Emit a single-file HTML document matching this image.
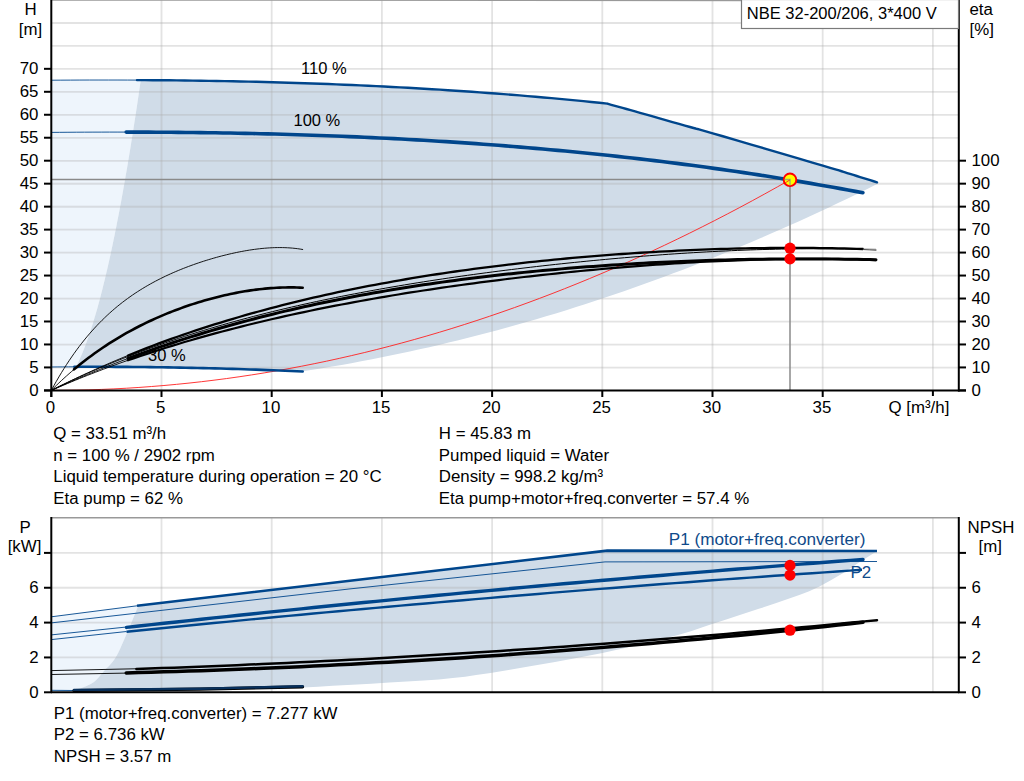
<!DOCTYPE html>
<html><head><meta charset="utf-8"><style>
html,body{margin:0;padding:0;background:#fff;width:1024px;height:781px;overflow:hidden}
svg{display:block}
.t{font-family:"Liberation Sans",sans-serif;font-size:16.85px;fill:#000}
</style></head><body>
<svg width="1024" height="781" viewBox="0 0 1024 781">
<path d="M51.30,80.20 L140.74,80.20 L140.04,85.06 L139.33,89.92 L138.61,94.78 L137.89,99.64 L137.17,104.51 L136.43,109.37 L135.69,114.23 L134.95,119.09 L134.20,123.95 L133.44,128.81 L132.67,133.67 L131.90,138.53 L131.11,143.39 L130.32,148.25 L129.53,153.12 L128.72,157.98 L127.91,162.84 L127.09,167.70 L126.25,172.56 L125.41,177.42 L124.56,182.28 L123.70,187.14 L122.83,192.00 L121.95,196.86 L121.06,201.73 L120.15,206.59 L119.23,211.45 L118.31,216.31 L117.36,221.17 L116.41,226.03 L115.44,230.89 L114.45,235.75 L113.45,240.61 L112.44,245.47 L111.40,250.34 L110.35,255.20 L109.28,260.06 L108.19,264.92 L107.07,269.78 L105.94,274.64 L104.78,279.50 L103.59,284.36 L102.38,289.22 L101.14,294.08 L99.87,298.95 L98.56,303.81 L97.21,308.67 L95.83,313.53 L94.39,318.39 L92.91,323.25 L91.38,328.11 L89.78,332.97 L88.12,337.83 L86.38,342.69 L84.54,347.56 L82.60,352.42 L80.53,357.28 L78.30,362.14 L75.87,367.00 L51.30,367.00 Z" fill="#eef5fc"/>
<path d="M140.76,80.11 L148.66,80.15 L156.57,80.21 L164.48,80.28 L172.39,80.35 L180.29,80.44 L188.20,80.53 L196.11,80.64 L204.02,80.76 L211.92,80.89 L219.83,81.02 L227.74,81.17 L235.65,81.33 L243.55,81.50 L251.46,81.69 L259.37,81.88 L267.28,82.08 L275.18,82.30 L283.09,82.53 L291.00,82.77 L298.91,83.02 L306.81,83.28 L314.72,83.56 L322.63,83.85 L330.54,84.15 L338.44,84.47 L346.35,84.79 L354.26,85.13 L362.17,85.48 L370.07,85.85 L377.98,86.23 L385.89,86.62 L393.80,87.03 L401.70,87.45 L409.61,87.88 L417.52,88.33 L425.43,88.79 L433.33,89.27 L441.24,89.76 L449.15,90.26 L457.06,90.78 L464.96,91.32 L472.87,91.87 L480.78,92.43 L488.69,93.01 L496.59,93.60 L504.50,94.21 L512.41,94.84 L520.32,95.48 L528.22,96.13 L536.13,96.81 L544.04,97.50 L551.95,98.20 L559.85,98.92 L567.76,99.66 L575.67,100.41 L583.58,101.18 L591.48,101.97 L599.39,102.78 L607.30,103.60 L607.30,103.70 L611.27,104.80 L615.07,105.86 L618.80,106.89 L622.57,107.93 L626.47,109.01 L630.61,110.17 L635.08,111.42 L640.00,112.80 L645.61,114.38 L651.92,116.18 L658.68,118.10 L665.62,120.07 L672.49,122.03 L679.01,123.89 L684.94,125.57 L690.00,127.00 L693.55,127.99 L695.55,128.52 L696.67,128.80 L697.59,129.02 L698.99,129.38 L701.52,130.08 L705.87,131.32 L712.70,133.30 L722.85,136.26 L736.02,140.11 L751.23,144.56 L767.47,149.33 L783.74,154.10 L799.06,158.60 L812.41,162.53 L822.80,165.60 L830.17,167.79 L835.43,169.36 L839.08,170.47 L841.59,171.24 L843.46,171.83 L845.16,172.38 L847.18,173.02 L850.00,173.90 L853.38,174.95 L856.76,175.99 L860.14,177.04 L863.51,178.09 L866.88,179.15 L870.25,180.20 L873.63,181.25 L877.00,182.30 L877.00,184.07 L867.27,188.91 L857.53,193.68 L847.80,198.41 L838.06,203.07 L828.33,207.68 L818.60,212.23 L808.86,216.72 L799.13,221.15 L789.39,225.53 L779.66,229.85 L769.93,234.11 L760.19,238.32 L750.46,242.47 L740.73,246.56 L730.99,250.59 L721.26,254.56 L711.52,258.48 L701.79,262.34 L692.06,266.15 L682.32,269.89 L672.59,273.58 L662.85,277.22 L653.12,280.79 L643.39,284.31 L633.65,287.77 L623.92,291.17 L614.18,294.51 L604.45,297.80 L594.72,301.03 L584.98,304.20 L575.25,307.32 L565.52,310.38 L555.78,313.38 L546.05,316.32 L536.31,319.21 L526.58,322.04 L516.85,324.81 L507.11,327.52 L497.38,330.18 L487.64,332.78 L477.91,335.32 L468.18,337.81 L458.44,340.23 L448.71,342.60 L438.97,344.92 L429.24,347.17 L419.51,349.37 L409.77,351.51 L400.04,353.59 L390.31,355.62 L380.57,357.59 L370.84,359.50 L361.10,361.35 L351.37,363.15 L341.64,364.89 L331.90,366.57 L322.17,368.20 L312.43,369.76 L302.70,371.27 L302.70,371.55 L296.86,371.29 L291.02,371.03 L285.18,370.79 L279.35,370.55 L273.51,370.31 L267.67,370.09 L261.83,369.87 L255.99,369.66 L250.15,369.46 L244.32,369.26 L238.48,369.07 L232.64,368.89 L226.80,368.72 L220.96,368.55 L215.12,368.39 L209.28,368.24 L203.45,368.10 L197.61,367.96 L191.77,367.84 L185.93,367.72 L180.09,367.60 L174.25,367.50 L168.42,367.40 L162.58,367.31 L156.74,367.22 L150.90,367.15 L145.06,367.08 L139.22,367.02 L133.38,366.96 L127.55,366.92 L121.71,366.88 L115.87,366.85 L110.03,366.82 L104.19,366.81 L98.35,366.80 L92.52,366.80 L86.68,366.80 L80.84,366.82 L75.00,366.84 L75.87,367.00 L78.30,362.14 L80.53,357.27 L82.60,352.41 L84.54,347.55 L86.38,342.69 L88.12,337.82 L89.79,332.96 L91.38,328.10 L92.92,323.24 L94.40,318.37 L95.83,313.51 L97.22,308.65 L98.56,303.79 L99.87,298.92 L101.15,294.06 L102.39,289.20 L103.60,284.34 L104.79,279.47 L105.95,274.61 L107.08,269.75 L108.19,264.88 L109.29,260.02 L110.36,255.16 L111.41,250.30 L112.44,245.43 L113.46,240.57 L114.46,235.71 L115.45,230.85 L116.42,225.98 L117.37,221.12 L118.32,216.26 L119.24,211.40 L120.16,206.53 L121.07,201.67 L121.96,196.81 L122.84,191.95 L123.71,187.08 L124.57,182.22 L125.42,177.36 L126.26,172.49 L127.10,167.63 L127.92,162.77 L128.73,157.91 L129.54,153.04 L130.34,148.18 L131.13,143.32 L131.91,138.46 L132.68,133.59 L133.45,128.73 L134.21,123.87 L134.96,119.01 L135.71,114.14 L136.45,109.28 L137.18,104.42 L137.91,99.55 L138.63,94.69 L139.34,89.83 L140.05,84.97 L140.76,80.10 Z" fill="#d0dce8"/>
<line x1="52" y1="367.53" x2="958" y2="367.53" stroke="rgba(172,172,172,0.34)" stroke-width="1.8"/>
<line x1="52" y1="344.56" x2="958" y2="344.56" stroke="rgba(172,172,172,0.34)" stroke-width="1.8"/>
<line x1="52" y1="321.59" x2="958" y2="321.59" stroke="rgba(172,172,172,0.34)" stroke-width="1.8"/>
<line x1="52" y1="298.62" x2="958" y2="298.62" stroke="rgba(172,172,172,0.34)" stroke-width="1.8"/>
<line x1="52" y1="275.65" x2="958" y2="275.65" stroke="rgba(172,172,172,0.34)" stroke-width="1.8"/>
<line x1="52" y1="252.68" x2="958" y2="252.68" stroke="rgba(172,172,172,0.34)" stroke-width="1.8"/>
<line x1="52" y1="229.71" x2="958" y2="229.71" stroke="rgba(172,172,172,0.34)" stroke-width="1.8"/>
<line x1="52" y1="206.74" x2="958" y2="206.74" stroke="rgba(172,172,172,0.34)" stroke-width="1.8"/>
<line x1="52" y1="183.77" x2="958" y2="183.77" stroke="rgba(172,172,172,0.34)" stroke-width="1.8"/>
<line x1="52" y1="160.80" x2="958" y2="160.80" stroke="rgba(172,172,172,0.34)" stroke-width="1.8"/>
<line x1="52" y1="137.83" x2="958" y2="137.83" stroke="rgba(172,172,172,0.34)" stroke-width="1.8"/>
<line x1="52" y1="114.86" x2="958" y2="114.86" stroke="rgba(172,172,172,0.34)" stroke-width="1.8"/>
<line x1="52" y1="91.89" x2="958" y2="91.89" stroke="rgba(172,172,172,0.34)" stroke-width="1.8"/>
<line x1="52" y1="68.92" x2="958" y2="68.92" stroke="rgba(172,172,172,0.34)" stroke-width="1.8"/>
<line x1="52" y1="45.95" x2="958" y2="45.95" stroke="rgba(172,172,172,0.34)" stroke-width="1.8"/>
<line x1="52" y1="22.98" x2="958" y2="22.98" stroke="rgba(172,172,172,0.34)" stroke-width="1.8"/>
<line x1="161.50" y1="0" x2="161.50" y2="390" stroke="rgba(172,172,172,0.34)" stroke-width="1.8"/>
<line x1="271.70" y1="0" x2="271.70" y2="390" stroke="rgba(172,172,172,0.34)" stroke-width="1.8"/>
<line x1="381.90" y1="0" x2="381.90" y2="390" stroke="rgba(172,172,172,0.34)" stroke-width="1.8"/>
<line x1="492.10" y1="0" x2="492.10" y2="390" stroke="rgba(172,172,172,0.34)" stroke-width="1.8"/>
<line x1="602.30" y1="0" x2="602.30" y2="390" stroke="rgba(172,172,172,0.34)" stroke-width="1.8"/>
<line x1="712.50" y1="0" x2="712.50" y2="390" stroke="rgba(172,172,172,0.34)" stroke-width="1.8"/>
<line x1="822.70" y1="0" x2="822.70" y2="390" stroke="rgba(172,172,172,0.34)" stroke-width="1.8"/>
<line x1="932.90" y1="0" x2="932.90" y2="390" stroke="rgba(172,172,172,0.34)" stroke-width="1.8"/>
<line x1="52" y1="179.6" x2="790" y2="179.6" stroke="#8a8a8a" stroke-width="1.5"/>
<line x1="790" y1="180" x2="790" y2="390" stroke="#8a8a8a" stroke-width="1.5"/>
<path d="M51.30,390.40 L63.82,390.34 L76.34,390.16 L88.85,389.86 L101.37,389.43 L113.89,388.89 L126.41,388.22 L138.93,387.44 L151.44,386.53 L163.96,385.50 L176.48,384.35 L189.00,383.08 L201.52,381.69 L214.03,380.18 L226.55,378.55 L239.07,376.79 L251.59,374.92 L264.11,372.92 L276.62,370.80 L289.14,368.57 L301.66,366.21 L314.18,363.73 L326.70,361.13 L339.21,358.40 L351.73,355.56 L364.25,352.60 L376.77,349.51 L389.29,346.31 L401.80,342.98 L414.32,339.53 L426.84,335.96 L439.36,332.28 L451.88,328.46 L464.39,324.53 L476.91,320.48 L489.43,316.31 L501.95,312.01 L514.46,307.60 L526.98,303.06 L539.50,298.40 L552.02,293.63 L564.54,288.73 L577.05,283.71 L589.57,278.57 L602.09,273.30 L614.61,267.92 L627.13,262.42 L639.64,256.79 L652.16,251.05 L664.68,245.18 L677.20,239.19 L689.72,233.08 L702.23,226.85 L714.75,220.50 L727.27,214.03 L739.79,207.44 L752.31,200.72 L764.82,193.89 L777.34,186.93 L789.86,179.86" fill="none" stroke="#ff2020" stroke-width="0.9"/>
<path d="M51.30,80.21 L60.82,80.15 L70.34,80.10 L79.87,80.06 L89.39,80.03 L98.91,80.02 L108.43,80.02 L117.96,80.03 L127.48,80.05 L137.00,80.09" fill="none" stroke="#00468c" stroke-width="0.9"/>
<path d="M137.00,80.09 L144.97,80.13 L152.94,80.18 L160.91,80.25 L168.88,80.32 L176.86,80.40 L184.83,80.49 L192.80,80.60 L200.77,80.71 L208.74,80.83 L216.71,80.97 L224.68,81.11 L232.65,81.27 L240.63,81.44 L248.60,81.62 L256.57,81.81 L264.54,82.01 L272.51,82.23 L280.48,82.45 L288.45,82.69 L296.42,82.94 L304.39,83.20 L312.37,83.48 L320.34,83.77 L328.31,84.07 L336.28,84.38 L344.25,84.70 L352.22,85.04 L360.19,85.40 L368.16,85.76 L376.14,86.14 L384.11,86.53 L392.08,86.94 L400.05,87.36 L408.02,87.79 L415.99,88.24 L423.96,88.71 L431.93,89.18 L439.91,89.67 L447.88,90.18 L455.85,90.70 L463.82,91.24 L471.79,91.79 L479.76,92.36 L487.73,92.94 L495.70,93.53 L503.67,94.15 L511.65,94.78 L519.62,95.42 L527.59,96.08 L535.56,96.76 L543.53,97.45 L551.50,98.16 L559.47,98.89 L567.44,99.63 L575.42,100.39 L583.39,101.16 L591.36,101.96 L599.33,102.77 L607.30,103.60 L607.30,103.70 L611.27,104.80 L615.07,105.86 L618.80,106.89 L622.57,107.93 L626.47,109.01 L630.61,110.17 L635.08,111.42 L640.00,112.80 L645.61,114.38 L651.92,116.18 L658.68,118.10 L665.62,120.07 L672.49,122.03 L679.01,123.89 L684.94,125.57 L690.00,127.00 L693.55,127.99 L695.55,128.52 L696.67,128.80 L697.59,129.02 L698.99,129.38 L701.52,130.08 L705.87,131.32 L712.70,133.30 L722.85,136.26 L736.02,140.11 L751.23,144.56 L767.47,149.33 L783.74,154.10 L799.06,158.60 L812.41,162.53 L822.80,165.60 L830.17,167.79 L835.43,169.36 L839.08,170.47 L841.59,171.24 L843.46,171.83 L845.16,172.38 L847.18,173.02 L850.00,173.90 L853.38,174.95 L856.76,175.99 L860.14,177.04 L863.51,178.09 L866.88,179.15 L870.25,180.20 L873.63,181.25 L877.00,182.30" fill="none" stroke="#00468c" stroke-width="2.4" stroke-linejoin="round" stroke-linecap="round"/>
<path d="M51.30,132.40 L59.62,132.33 L67.94,132.27 L76.27,132.21 L84.59,132.17 L92.91,132.13 L101.23,132.11 L109.56,132.09 L117.88,132.09 L126.20,132.09" fill="none" stroke="#00468c" stroke-width="0.9"/>
<path d="M126.20,132.09 L133.64,132.10 L141.08,132.13 L148.52,132.16 L155.97,132.19 L163.41,132.24 L170.85,132.30 L178.29,132.36 L185.73,132.43 L193.17,132.52 L200.61,132.61 L208.06,132.71 L215.50,132.82 L222.94,132.94 L230.38,133.07 L237.82,133.21 L245.26,133.37 L252.70,133.53 L260.15,133.70 L267.59,133.88 L275.03,134.07 L282.47,134.27 L289.91,134.49 L297.35,134.71 L304.79,134.95 L312.24,135.19 L319.68,135.45 L327.12,135.72 L334.56,136.00 L342.00,136.29 L349.44,136.59 L356.88,136.91 L364.33,137.24 L371.77,137.58 L379.21,137.93 L386.65,138.29 L394.09,138.67 L401.53,139.06 L408.97,139.46 L416.42,139.87 L423.86,140.30 L431.30,140.74 L438.74,141.20 L446.18,141.66 L453.62,142.14 L461.06,142.64 L468.51,143.15 L475.95,143.67 L483.39,144.20 L490.83,144.75 L498.27,145.32 L505.71,145.89 L513.15,146.49 L520.59,147.09 L528.04,147.71 L535.48,148.35 L542.92,149.00 L550.36,149.67 L557.80,150.35 L565.24,151.04 L572.68,151.76 L580.13,152.48 L587.57,153.23 L595.01,153.99 L602.45,154.76 L609.89,155.55 L617.33,156.36 L624.77,157.18 L632.22,158.02 L639.66,158.87 L647.10,159.75 L654.54,160.63 L661.98,161.54 L669.42,162.46 L676.86,163.40 L684.31,164.36 L691.75,165.33 L699.19,166.32 L706.63,167.33 L714.07,168.36 L721.51,169.40 L728.95,170.46 L736.40,171.54 L743.84,172.64 L751.28,173.76 L758.72,174.89 L766.16,176.05 L773.60,177.22 L781.04,178.41 L788.49,179.62 L795.93,180.85 L803.37,182.10 L810.81,183.36 L818.25,184.65 L825.69,185.96 L833.13,187.28 L840.58,188.63 L848.02,189.99 L855.46,191.38 L862.90,192.78" fill="none" stroke="#00468c" stroke-width="3.6" stroke-linecap="round"/>
<path d="M51.30,367.00 L57.08,366.95 L62.85,366.91 L68.62,366.87 L74.40,366.84" fill="none" stroke="#00468c" stroke-width="0.9"/>
<path d="M74.40,366.84 L80.25,366.82 L86.11,366.81 L91.96,366.80 L97.82,366.80 L103.67,366.81 L109.52,366.82 L115.38,366.85 L121.23,366.88 L127.08,366.91 L132.94,366.96 L138.79,367.01 L144.65,367.07 L150.50,367.14 L156.35,367.22 L162.21,367.30 L168.06,367.39 L173.92,367.49 L179.77,367.60 L185.62,367.71 L191.48,367.83 L197.33,367.96 L203.18,368.09 L209.04,368.24 L214.89,368.39 L220.75,368.55 L226.60,368.71 L232.45,368.89 L238.31,369.07 L244.16,369.25 L250.02,369.45 L255.87,369.65 L261.72,369.86 L267.58,370.08 L273.43,370.31 L279.28,370.54 L285.14,370.78 L290.99,371.03 L296.85,371.29 L302.70,371.55" fill="none" stroke="#00468c" stroke-width="2.6" stroke-linecap="round"/>
<text x="301" y="74" class="t" style="font-size:16.5px">110 %</text>
<text x="293.5" y="126" class="t" style="font-size:16.5px">100 %</text>
<text x="148" y="361" class="t" style="font-size:16.5px">30 %</text>
<path d="M51.30,390.40 L55.34,388.36 L59.37,386.35 L63.41,384.35 L67.45,382.39 L71.48,380.44 L75.52,378.52 L79.56,376.61 L83.59,374.73 L87.63,372.88 L91.67,371.04 L95.71,369.23 L99.74,367.43 L103.78,365.66 L107.82,363.91 L111.85,362.17 L115.89,360.46 L119.93,358.77 L123.96,357.10 L128.00,355.45" fill="none" stroke="#000" stroke-width="0.9" stroke-linecap="butt" stroke-linejoin="round"/>
<path d="M51.30,390.40 L55.34,388.40 L59.37,386.42 L63.41,384.47 L67.45,382.55 L71.48,380.65 L75.52,378.77 L79.56,376.92 L83.59,375.09 L87.63,373.29 L91.67,371.51 L95.71,369.76 L99.74,368.02 L103.78,366.31 L107.82,364.63 L111.85,362.96 L115.89,361.32 L119.93,359.70 L123.96,358.09 L128.00,356.51" fill="none" stroke="#000" stroke-width="0.9" stroke-linecap="butt" stroke-linejoin="round"/>
<path d="M51.30,390.40 L55.34,388.55 L59.37,386.72 L63.41,384.91 L67.45,383.11 L71.48,381.34 L75.52,379.59 L79.56,377.85 L83.59,376.14 L87.63,374.44 L91.67,372.76 L95.71,371.10 L99.74,369.46 L103.78,367.83 L107.82,366.23 L111.85,364.64 L115.89,363.07 L119.93,361.51 L123.96,359.98 L128.00,358.46" fill="none" stroke="#000" stroke-width="0.9" stroke-linecap="butt" stroke-linejoin="round"/>
<path d="M51.30,390.40 L55.34,388.64 L59.37,386.90 L63.41,385.18 L67.45,383.49 L71.48,381.81 L75.52,380.15 L79.56,378.51 L83.59,376.90 L87.63,375.30 L91.67,373.72 L95.71,372.15 L99.74,370.61 L103.78,369.09 L107.82,367.58 L111.85,366.09 L115.89,364.62 L119.93,363.16 L123.96,361.72 L128.00,360.30" fill="none" stroke="#000" stroke-width="0.9" stroke-linecap="butt" stroke-linejoin="round"/>
<path d="M128.00,356.51 L134.29,354.10 L140.57,351.73 L146.86,349.40 L153.14,347.13 L159.43,344.90 L165.71,342.72 L172.00,340.58 L178.29,338.48 L184.57,336.42 L190.86,334.41 L197.14,332.44 L203.43,330.50 L209.71,328.61 L216.00,326.75 L222.29,324.93 L228.57,323.15 L234.86,321.40 L241.14,319.68 L247.43,318.00 L253.71,316.35 L260.00,314.74 L266.29,313.15 L272.57,311.60 L278.86,310.08 L285.14,308.58 L291.43,307.11 L297.71,305.68 L304.00,304.26 L310.29,302.88 L316.57,301.52 L322.86,300.19 L329.14,298.88 L335.43,297.59 L341.71,296.33 L348.00,295.09 L354.29,293.88 L360.57,292.69 L366.86,291.51 L373.14,290.36 L379.43,289.23 L385.71,288.12 L392.00,287.03 L398.29,285.96 L404.57,284.90 L410.86,283.87 L417.14,282.85 L423.43,281.85 L429.71,280.87 L436.00,279.91 L442.29,278.96 L448.57,278.03 L454.86,277.11 L461.14,276.21 L467.43,275.32 L473.71,274.45 L480.00,273.60 L486.29,272.76 L492.57,271.93 L498.86,271.12 L505.14,270.32 L511.43,269.54 L517.71,268.77 L524.00,268.01 L530.29,267.27 L536.57,266.54 L542.86,265.82 L549.14,265.12 L555.43,264.43 L561.71,263.75 L568.00,263.09 L574.29,262.44 L580.57,261.80 L586.86,261.18 L593.14,260.56 L599.43,259.97 L605.71,259.38 L612.00,258.81 L618.29,258.25 L624.57,257.71 L630.86,257.18 L637.14,256.66 L643.43,256.16 L649.71,255.67 L656.00,255.19 L662.29,254.73 L668.57,254.29 L674.86,253.85 L681.14,253.44 L687.43,253.04 L693.71,252.65 L700.00,252.28 L706.29,251.93 L712.57,251.59 L718.86,251.28 L725.14,250.97 L731.43,250.69 L737.71,250.42 L744.00,250.17 L750.29,249.94 L756.57,249.73 L762.86,249.54 L769.14,249.37 L775.43,249.22 L781.71,249.09 L788.00,248.98 L794.29,248.89 L800.57,248.83 L806.86,248.79 L813.14,248.77 L819.43,248.78 L825.71,248.81 L832.00,248.86 L838.29,248.95 L844.57,249.06 L850.86,249.19 L857.14,249.35 L863.43,249.55 L869.71,249.77 L876.00,250.02" fill="none" stroke="#000" stroke-width="1.0" stroke-linecap="round" stroke-linejoin="round"/>
<path d="M128.00,355.45 L134.18,352.96 L140.35,350.52 L146.53,348.12 L152.70,345.76 L158.88,343.45 L165.05,341.18 L171.23,338.95 L177.41,336.76 L183.58,334.61 L189.76,332.50 L195.93,330.43 L202.11,328.40 L208.28,326.40 L214.46,324.45 L220.63,322.53 L226.81,320.64 L232.99,318.79 L239.16,316.98 L245.34,315.20 L251.51,313.45 L257.69,311.74 L263.86,310.06 L270.04,308.41 L276.22,306.79 L282.39,305.20 L288.57,303.65 L294.74,302.12 L300.92,300.63 L307.09,299.16 L313.27,297.72 L319.44,296.31 L325.62,294.92 L331.80,293.57 L337.97,292.24 L344.15,290.93 L350.32,289.66 L356.50,288.41 L362.67,287.18 L368.85,285.98 L375.03,284.80 L381.20,283.64 L387.38,282.51 L393.55,281.40 L399.73,280.32 L405.90,279.25 L412.08,278.21 L418.25,277.19 L424.43,276.20 L430.61,275.22 L436.78,274.26 L442.96,273.33 L449.13,272.41 L455.31,271.51 L461.48,270.64 L467.66,269.78 L473.84,268.94 L480.01,268.12 L486.19,267.32 L492.36,266.54 L498.54,265.77 L504.71,265.03 L510.89,264.30 L517.06,263.59 L523.24,262.89 L529.42,262.21 L535.59,261.55 L541.77,260.91 L547.94,260.28 L554.12,259.67 L560.29,259.08 L566.47,258.50 L572.65,257.94 L578.82,257.39 L585.00,256.86 L591.17,256.34 L597.35,255.84 L603.52,255.36 L609.70,254.89 L615.87,254.43 L622.05,253.99 L628.23,253.57 L634.40,253.16 L640.58,252.77 L646.75,252.39 L652.93,252.03 L659.10,251.68 L665.28,251.35 L671.46,251.03 L677.63,250.72 L683.81,250.44 L689.98,250.16 L696.16,249.90 L702.33,249.66 L708.51,249.43 L714.68,249.22 L720.86,249.02 L727.04,248.84 L733.21,248.67 L739.39,248.52 L745.56,248.39 L751.74,248.27 L757.91,248.16 L764.09,248.08 L770.27,248.01 L776.44,247.95 L782.62,247.91 L788.79,247.89 L794.97,247.88 L801.14,247.90 L807.32,247.93 L813.49,247.97 L819.67,248.03 L825.85,248.12 L832.02,248.22 L838.20,248.33 L844.37,248.47 L850.55,248.62 L856.72,248.80 L862.90,248.99" fill="none" stroke="#000" stroke-width="2.3" stroke-linecap="round" stroke-linejoin="round"/>
<path d="M128.00,358.46 L134.29,356.13 L140.57,353.84 L146.86,351.58 L153.14,349.37 L159.43,347.20 L165.71,345.07 L172.00,342.97 L178.29,340.91 L184.57,338.89 L190.86,336.90 L197.14,334.95 L203.43,333.04 L209.71,331.16 L216.00,329.31 L222.29,327.50 L228.57,325.72 L234.86,323.98 L241.14,322.26 L247.43,320.58 L253.71,318.93 L260.00,317.32 L266.29,315.73 L272.57,314.17 L278.86,312.65 L285.14,311.15 L291.43,309.68 L297.71,308.24 L304.00,306.83 L310.29,305.44 L316.57,304.09 L322.86,302.76 L329.14,301.45 L335.43,300.18 L341.71,298.93 L348.00,297.70 L354.29,296.50 L360.57,295.32 L366.86,294.17 L373.14,293.04 L379.43,291.94 L385.71,290.86 L392.00,289.80 L398.29,288.76 L404.57,287.75 L410.86,286.76 L417.14,285.79 L423.43,284.84 L429.71,283.92 L436.00,283.01 L442.29,282.13 L448.57,281.26 L454.86,280.42 L461.14,279.59 L467.43,278.79 L473.71,278.00 L480.00,277.23 L486.29,276.48 L492.57,275.75 L498.86,275.04 L505.14,274.35 L511.43,273.67 L517.71,273.01 L524.00,272.37 L530.29,271.74 L536.57,271.13 L542.86,270.54 L549.14,269.97 L555.43,269.41 L561.71,268.87 L568.00,268.34 L574.29,267.83 L580.57,267.33 L586.86,266.85 L593.14,266.39 L599.43,265.94 L605.71,265.50 L612.00,265.08 L618.29,264.68 L624.57,264.29 L630.86,263.91 L637.14,263.55 L643.43,263.20 L649.71,262.87 L656.00,262.55 L662.29,262.24 L668.57,261.95 L674.86,261.67 L681.14,261.41 L687.43,261.15 L693.71,260.92 L700.00,260.69 L706.29,260.48 L712.57,260.28 L718.86,260.10 L725.14,259.93 L731.43,259.77 L737.71,259.62 L744.00,259.49 L750.29,259.37 L756.57,259.27 L762.86,259.18 L769.14,259.10 L775.43,259.03 L781.71,258.98 L788.00,258.94 L794.29,258.91 L800.57,258.89 L806.86,258.89 L813.14,258.91 L819.43,258.93 L825.71,258.97 L832.00,259.02 L838.29,259.09 L844.57,259.17 L850.86,259.26 L857.14,259.37 L863.43,259.49 L869.71,259.62 L876.00,259.77" fill="none" stroke="#000" stroke-width="3.0" stroke-linecap="round" stroke-linejoin="round"/>
<path d="M128.00,360.30 L134.29,358.13 L140.57,355.99 L146.86,353.89 L153.14,351.83 L159.43,349.80 L165.71,347.82 L172.00,345.87 L178.29,343.95 L184.57,342.07 L190.86,340.22 L197.14,338.41 L203.43,336.63 L209.71,334.88 L216.00,333.16 L222.29,331.47 L228.57,329.82 L234.86,328.19 L241.14,326.59 L247.43,325.02 L253.71,323.48 L260.00,321.96 L266.29,320.47 L272.57,319.01 L278.86,317.57 L285.14,316.16 L291.43,314.77 L297.71,313.41 L304.00,312.07 L310.29,310.75 L316.57,309.45 L322.86,308.18 L329.14,306.93 L335.43,305.70 L341.71,304.49 L348.00,303.30 L354.29,302.13 L360.57,300.98 L366.86,299.85 L373.14,298.74 L379.43,297.65 L385.71,296.58 L392.00,295.52 L398.29,294.48 L404.57,293.46 L410.86,292.46 L417.14,291.47 L423.43,290.50 L429.71,289.54 L436.00,288.61 L442.29,287.68 L448.57,286.78 L454.86,285.88 L461.14,285.01 L467.43,284.14 L473.71,283.30 L480.00,282.46 L486.29,281.64 L492.57,280.84 L498.86,280.05 L505.14,279.27 L511.43,278.51 L517.71,277.76 L524.00,277.03 L530.29,276.30 L536.57,275.60 L542.86,274.90 L549.14,274.22 L555.43,273.55 L561.71,272.90 L568.00,272.26 L574.29,271.63 L580.57,271.02 L586.86,270.42 L593.14,269.83 L599.43,269.25 L605.71,268.69 L612.00,268.15 L618.29,267.62 L624.57,267.10 L630.86,266.59 L637.14,266.10 L643.43,265.62 L649.71,265.16 L656.00,264.71 L662.29,264.28 L668.57,263.86 L674.86,263.46 L681.14,263.07 L687.43,262.70 L693.71,262.34 L700.00,262.00 L706.29,261.67 L712.57,261.36 L718.86,261.07 L725.14,260.79 L731.43,260.54 L737.71,260.29 L744.00,260.07 L750.29,259.87 L756.57,259.68 L762.86,259.51 L769.14,259.36 L775.43,259.23 L781.71,259.12 L788.00,259.03 L794.29,258.96 L800.57,258.92 L806.86,258.89 L813.14,258.89 L819.43,258.90 L825.71,258.94 L832.00,259.01 L838.29,259.10 L844.57,259.21 L850.86,259.35 L857.14,259.51 L863.43,259.69 L869.71,259.91 L876.00,260.15" fill="none" stroke="#000" stroke-width="2.2" stroke-linecap="round" stroke-linejoin="round"/>
<path d="M862.9,249 L876,249.3" stroke="#888" stroke-width="1.2"/>
<path d="M51.30,390.40 L53.84,385.76 L56.38,381.26 L58.92,376.90 L61.46,372.67 L64.00,368.57 L66.54,364.59 L69.08,360.74 L71.62,357.00 L74.15,353.38 L76.69,349.87 L79.23,346.47 L81.77,343.18 L84.31,339.99 L86.85,336.89 L89.39,333.89 L91.93,330.99 L94.47,328.18 L97.01,325.45 L99.55,322.81 L102.09,320.25 L104.63,317.77 L107.17,315.36 L109.71,313.03 L112.25,310.77 L114.78,308.58 L117.32,306.46 L119.86,304.40 L122.40,302.41 L124.94,300.47 L127.48,298.60 L130.02,296.77 L132.56,295.01 L135.10,293.29 L137.64,291.63 L140.18,290.01 L142.72,288.44 L145.26,286.91 L147.80,285.43 L150.34,283.99 L152.88,282.59 L155.42,281.23 L157.95,279.91 L160.49,278.62 L163.03,277.36 L165.57,276.14 L168.11,274.96 L170.65,273.80 L173.19,272.67 L175.73,271.57 L178.27,270.51 L180.81,269.46 L183.35,268.45 L185.89,267.46 L188.43,266.49 L190.97,265.55 L193.51,264.64 L196.05,263.74 L198.58,262.87 L201.12,262.03 L203.66,261.20 L206.20,260.40 L208.74,259.62 L211.28,258.86 L213.82,258.12 L216.36,257.40 L218.90,256.70 L221.44,256.03 L223.98,255.38 L226.52,254.75 L229.06,254.14 L231.60,253.55 L234.14,252.99 L236.68,252.45 L239.22,251.93 L241.75,251.44 L244.29,250.98 L246.83,250.54 L249.37,250.12 L251.91,249.74 L254.45,249.38 L256.99,249.05 L259.53,248.75 L262.07,248.48 L264.61,248.24 L267.15,248.04 L269.69,247.87 L272.23,247.74 L274.77,247.64 L277.31,247.59 L279.85,247.57 L282.38,247.59 L284.92,247.66 L287.46,247.77 L290.00,247.93 L292.54,248.14 L295.08,248.40 L297.62,248.70 L300.16,249.07 L302.70,249.49" fill="none" stroke="#000" stroke-width="0.9" stroke-linecap="round" stroke-linejoin="round"/>
<path d="M51.30,390.40 L53.83,387.88 L56.37,385.40 L58.90,382.97 L61.43,380.59 L63.97,378.26 L66.50,375.97 L69.03,373.73 L71.57,371.53 L74.10,369.37" fill="none" stroke="#000" stroke-width="0.9" stroke-linecap="butt" stroke-linejoin="round"/>
<path d="M74.10,369.37 L76.99,366.96 L79.89,364.60 L82.78,362.29 L85.67,360.04 L88.57,357.83 L91.46,355.68 L94.36,353.57 L97.25,351.51 L100.14,349.49 L103.04,347.52 L105.93,345.59 L108.82,343.70 L111.72,341.86 L114.61,340.06 L117.51,338.29 L120.40,336.57 L123.29,334.88 L126.19,333.23 L129.08,331.62 L131.97,330.04 L134.87,328.50 L137.76,326.99 L140.65,325.52 L143.55,324.08 L146.44,322.67 L149.34,321.29 L152.23,319.95 L155.12,318.63 L158.02,317.35 L160.91,316.09 L163.80,314.87 L166.70,313.67 L169.59,312.50 L172.48,311.36 L175.38,310.25 L178.27,309.16 L181.17,308.10 L184.06,307.07 L186.95,306.07 L189.85,305.09 L192.74,304.13 L195.63,303.20 L198.53,302.30 L201.42,301.42 L204.32,300.57 L207.21,299.74 L210.10,298.94 L213.00,298.17 L215.89,297.42 L218.78,296.69 L221.68,295.99 L224.57,295.32 L227.46,294.67 L230.36,294.04 L233.25,293.44 L236.15,292.87 L239.04,292.33 L241.93,291.81 L244.83,291.31 L247.72,290.85 L250.61,290.41 L253.51,290.00 L256.40,289.62 L259.29,289.26 L262.19,288.94 L265.08,288.64 L267.98,288.37 L270.87,288.14 L273.76,287.93 L276.66,287.76 L279.55,287.62 L282.44,287.51 L285.34,287.43 L288.23,287.39 L291.13,287.38 L294.02,287.41 L296.91,287.47 L299.81,287.58 L302.70,287.71" fill="none" stroke="#000" stroke-width="2.6" stroke-linecap="round" stroke-linejoin="round"/>
<circle cx="790" cy="248.2" r="5.6" fill="#ff0000"/>
<circle cx="790" cy="258.9" r="5.6" fill="#ff0000"/>
<circle cx="790" cy="179.8" r="6.3" fill="#ffff00" stroke="#ff0000" stroke-width="1.9"/>
<path d="M784.5,179.6 L790,179.6 L790,185.5" fill="none" stroke="#8a8a8a" stroke-opacity="0.7" stroke-width="1.5"/>
<path d="M785,183 L790,179.8" fill="none" stroke="#ff2020" stroke-width="0.9"/>
<line x1="51.3" y1="0" x2="958.8" y2="0.5" stroke="#999" stroke-width="1.5"/>
<line x1="51.3" y1="0" x2="51.3" y2="397" stroke="#000" stroke-width="2"/>
<line x1="958.8" y1="0" x2="958.8" y2="391.4" stroke="#000" stroke-width="2"/>
<line x1="44" y1="390.4" x2="966" y2="390.4" stroke="#000" stroke-width="2"/>
<line x1="44" y1="390.40" x2="52" y2="390.40" stroke="#000" stroke-width="2"/>
<text x="38.5" y="395.60" class="t" text-anchor="end">0</text>
<line x1="44" y1="367.43" x2="52" y2="367.43" stroke="#000" stroke-width="2"/>
<text x="38.5" y="372.63" class="t" text-anchor="end">5</text>
<line x1="44" y1="344.46" x2="52" y2="344.46" stroke="#000" stroke-width="2"/>
<text x="38.5" y="349.66" class="t" text-anchor="end">10</text>
<line x1="44" y1="321.49" x2="52" y2="321.49" stroke="#000" stroke-width="2"/>
<text x="38.5" y="326.69" class="t" text-anchor="end">15</text>
<line x1="44" y1="298.52" x2="52" y2="298.52" stroke="#000" stroke-width="2"/>
<text x="38.5" y="303.72" class="t" text-anchor="end">20</text>
<line x1="44" y1="275.55" x2="52" y2="275.55" stroke="#000" stroke-width="2"/>
<text x="38.5" y="280.75" class="t" text-anchor="end">25</text>
<line x1="44" y1="252.58" x2="52" y2="252.58" stroke="#000" stroke-width="2"/>
<text x="38.5" y="257.78" class="t" text-anchor="end">30</text>
<line x1="44" y1="229.61" x2="52" y2="229.61" stroke="#000" stroke-width="2"/>
<text x="38.5" y="234.81" class="t" text-anchor="end">35</text>
<line x1="44" y1="206.64" x2="52" y2="206.64" stroke="#000" stroke-width="2"/>
<text x="38.5" y="211.84" class="t" text-anchor="end">40</text>
<line x1="44" y1="183.67" x2="52" y2="183.67" stroke="#000" stroke-width="2"/>
<text x="38.5" y="188.87" class="t" text-anchor="end">45</text>
<line x1="44" y1="160.70" x2="52" y2="160.70" stroke="#000" stroke-width="2"/>
<text x="38.5" y="165.90" class="t" text-anchor="end">50</text>
<line x1="44" y1="137.73" x2="52" y2="137.73" stroke="#000" stroke-width="2"/>
<text x="38.5" y="142.93" class="t" text-anchor="end">55</text>
<line x1="44" y1="114.76" x2="52" y2="114.76" stroke="#000" stroke-width="2"/>
<text x="38.5" y="119.96" class="t" text-anchor="end">60</text>
<line x1="44" y1="91.79" x2="52" y2="91.79" stroke="#000" stroke-width="2"/>
<text x="38.5" y="96.99" class="t" text-anchor="end">65</text>
<line x1="44" y1="68.82" x2="52" y2="68.82" stroke="#000" stroke-width="2"/>
<text x="38.5" y="74.02" class="t" text-anchor="end">70</text>
<line x1="958" y1="390.40" x2="966" y2="390.40" stroke="#000" stroke-width="2"/>
<text x="971.5" y="395.60" class="t">0</text>
<line x1="958" y1="367.43" x2="966" y2="367.43" stroke="#000" stroke-width="2"/>
<text x="971.5" y="372.63" class="t">10</text>
<line x1="958" y1="344.46" x2="966" y2="344.46" stroke="#000" stroke-width="2"/>
<text x="971.5" y="349.66" class="t">20</text>
<line x1="958" y1="321.49" x2="966" y2="321.49" stroke="#000" stroke-width="2"/>
<text x="971.5" y="326.69" class="t">30</text>
<line x1="958" y1="298.52" x2="966" y2="298.52" stroke="#000" stroke-width="2"/>
<text x="971.5" y="303.72" class="t">40</text>
<line x1="958" y1="275.55" x2="966" y2="275.55" stroke="#000" stroke-width="2"/>
<text x="971.5" y="280.75" class="t">50</text>
<line x1="958" y1="252.58" x2="966" y2="252.58" stroke="#000" stroke-width="2"/>
<text x="971.5" y="257.78" class="t">60</text>
<line x1="958" y1="229.61" x2="966" y2="229.61" stroke="#000" stroke-width="2"/>
<text x="971.5" y="234.81" class="t">70</text>
<line x1="958" y1="206.64" x2="966" y2="206.64" stroke="#000" stroke-width="2"/>
<text x="971.5" y="211.84" class="t">80</text>
<line x1="958" y1="183.67" x2="966" y2="183.67" stroke="#000" stroke-width="2"/>
<text x="971.5" y="188.87" class="t">90</text>
<line x1="958" y1="160.70" x2="966" y2="160.70" stroke="#000" stroke-width="2"/>
<text x="971.5" y="165.90" class="t">100</text>
<line x1="51.30" y1="390" x2="51.30" y2="397" stroke="#000" stroke-width="2"/>
<text x="50.50" y="413" class="t" text-anchor="middle">0</text>
<line x1="161.50" y1="390" x2="161.50" y2="397" stroke="#000" stroke-width="2"/>
<text x="160.70" y="413" class="t" text-anchor="middle">5</text>
<line x1="271.70" y1="390" x2="271.70" y2="397" stroke="#000" stroke-width="2"/>
<text x="270.90" y="413" class="t" text-anchor="middle">10</text>
<line x1="381.90" y1="390" x2="381.90" y2="397" stroke="#000" stroke-width="2"/>
<text x="381.10" y="413" class="t" text-anchor="middle">15</text>
<line x1="492.10" y1="390" x2="492.10" y2="397" stroke="#000" stroke-width="2"/>
<text x="491.30" y="413" class="t" text-anchor="middle">20</text>
<line x1="602.30" y1="390" x2="602.30" y2="397" stroke="#000" stroke-width="2"/>
<text x="601.50" y="413" class="t" text-anchor="middle">25</text>
<line x1="712.50" y1="390" x2="712.50" y2="397" stroke="#000" stroke-width="2"/>
<text x="711.70" y="413" class="t" text-anchor="middle">30</text>
<line x1="822.70" y1="390" x2="822.70" y2="397" stroke="#000" stroke-width="2"/>
<text x="821.90" y="413" class="t" text-anchor="middle">35</text>
<line x1="932.90" y1="390" x2="932.90" y2="397" stroke="#000" stroke-width="2"/>
<rect x="885" y="396" width="70" height="24" fill="#fff"/>
<text x="888.5" y="413" class="t">Q [m³/h]</text>
<text x="30.5" y="14.6" class="t" text-anchor="middle">H</text>
<text x="30.5" y="34.7" class="t" text-anchor="middle">[m]</text>
<text x="969.5" y="14.8" class="t">eta</text>
<text x="969.5" y="34.7" class="t">[%]</text>
<rect x="741.5" y="-0.5" width="217" height="29" fill="#fff" stroke="#7a7a7a" stroke-width="1.2"/>
<text x="746.8" y="18.75" class="t" style="font-size:16.5px">NBE 32-200/206, 3*400 V</text>
<text x="53.3" y="439.00" class="t">Q = 33.51 m³/h</text>
<text x="438.8" y="439.00" class="t">H = 45.83 m</text>
<text x="53.3" y="460.70" class="t">n = 100 % / 2902 rpm</text>
<text x="438.8" y="460.70" class="t">Pumped liquid = Water</text>
<text x="53.3" y="482.40" class="t">Liquid temperature during operation = 20 °C</text>
<text x="438.8" y="482.40" class="t">Density = 998.2 kg/m³</text>
<text x="53.3" y="504.10" class="t">Eta pump = 62 %</text>
<text x="438.8" y="504.10" class="t">Eta pump+motor+freq.converter = 57.4 %</text>
<path d="M51.30,616.80 L138.00,605.80 L138.00,606.50 L136.63,609.83 L135.26,613.17 L133.89,616.52 L132.53,619.87 L131.15,623.20 L129.78,626.51 L128.39,629.78 L127.00,633.00 L125.60,636.24 L124.18,639.55 L122.76,642.86 L121.34,646.12 L119.91,649.28 L118.47,652.28 L117.04,655.07 L115.60,657.60 L114.15,659.83 L112.66,661.81 L111.17,663.57 L109.68,665.18 L108.20,666.68 L106.76,668.12 L105.35,669.54 L104.00,671.00 L102.72,672.49 L101.50,673.95 L100.33,675.37 L99.18,676.74 L98.04,678.06 L96.90,679.29 L95.72,680.45 L94.50,681.50 L93.24,682.44 L91.95,683.28 L90.64,684.03 L89.32,684.70 L87.99,685.32 L86.66,685.90 L85.32,686.45 L84.00,687.00 L82.68,687.52 L81.36,687.98 L80.03,688.40 L78.71,688.79 L77.38,689.16 L76.05,689.53 L74.73,689.90 L73.40,690.30 L73.40,692.30 L51.30,692.30 Z" fill="#eef5fc"/>
<path d="M138.00,605.80 L350.00,580.70 L607.30,550.20 L877.00,551.00 L877.00,551.00 L873.62,553.19 L866.88,557.56 L856.75,564.12 L843.25,572.88 L830.83,580.31 L819.47,586.44 L809.20,591.25 L800.00,594.75 L788.54,598.85 L774.81,603.55 L758.83,608.85 L740.58,614.75 L724.74,619.91 L711.31,624.34 L700.30,628.02 L691.70,630.98 L679.86,634.45 L664.77,638.45 L646.44,642.98 L624.86,648.02 L602.43,652.89 L579.14,657.56 L555.00,662.05 L530.00,666.35 L508.52,669.96 L490.55,672.89 L476.09,675.12 L465.16,676.67 L452.76,678.09 L438.89,679.38 L423.57,680.54 L406.78,681.56 L389.30,682.61 L371.13,683.67 L352.28,684.75 L332.73,685.85 L318.06,686.67 L308.29,687.23 L303.40,687.50 L74.00,690.30 L73.40,690.30 L74.73,689.90 L76.05,689.53 L77.38,689.16 L78.71,688.79 L80.03,688.40 L81.36,687.98 L82.68,687.52 L84.00,687.00 L85.32,686.45 L86.66,685.90 L87.99,685.32 L89.32,684.70 L90.64,684.03 L91.95,683.28 L93.24,682.44 L94.50,681.50 L95.72,680.45 L96.90,679.29 L98.04,678.06 L99.18,676.74 L100.33,675.37 L101.50,673.95 L102.72,672.49 L104.00,671.00 L105.35,669.54 L106.76,668.12 L108.20,666.68 L109.68,665.18 L111.17,663.57 L112.66,661.81 L114.15,659.83 L115.60,657.60 L117.04,655.07 L118.47,652.28 L119.91,649.28 L121.34,646.12 L122.76,642.86 L124.18,639.55 L125.60,636.24 L127.00,633.00 L128.39,629.78 L129.78,626.51 L131.15,623.20 L132.53,619.87 L133.89,616.52 L135.26,613.17 L136.63,609.83 L138.00,606.50 Z" fill="#d0dce8"/>
<line x1="52" y1="657.45" x2="958" y2="657.45" stroke="rgba(172,172,172,0.34)" stroke-width="1.8"/>
<line x1="52" y1="622.60" x2="958" y2="622.60" stroke="rgba(172,172,172,0.34)" stroke-width="1.8"/>
<line x1="52" y1="587.75" x2="958" y2="587.75" stroke="rgba(172,172,172,0.34)" stroke-width="1.8"/>
<line x1="52" y1="552.90" x2="958" y2="552.90" stroke="rgba(172,172,172,0.34)" stroke-width="1.8"/>
<line x1="161.50" y1="518" x2="161.50" y2="692" stroke="rgba(172,172,172,0.34)" stroke-width="1.8"/>
<line x1="271.70" y1="518" x2="271.70" y2="692" stroke="rgba(172,172,172,0.34)" stroke-width="1.8"/>
<line x1="381.90" y1="518" x2="381.90" y2="692" stroke="rgba(172,172,172,0.34)" stroke-width="1.8"/>
<line x1="492.10" y1="518" x2="492.10" y2="692" stroke="rgba(172,172,172,0.34)" stroke-width="1.8"/>
<line x1="602.30" y1="518" x2="602.30" y2="692" stroke="rgba(172,172,172,0.34)" stroke-width="1.8"/>
<line x1="712.50" y1="518" x2="712.50" y2="692" stroke="rgba(172,172,172,0.34)" stroke-width="1.8"/>
<line x1="822.70" y1="518" x2="822.70" y2="692" stroke="rgba(172,172,172,0.34)" stroke-width="1.8"/>
<line x1="932.90" y1="518" x2="932.90" y2="692" stroke="rgba(172,172,172,0.34)" stroke-width="1.8"/>
<path d="M51.3,616.8 L137,605.8" stroke="#00468c" stroke-width="0.9" fill="none"/>
<path d="M137,605.8 L350,580.7 L607.3,550.6 L877,551" stroke="#00468c" stroke-width="2.6" fill="none" stroke-linejoin="round"/>
<path d="M51.3,622.9 L350,588.9 L605,561.9 L877,561.5" stroke="#00468c" stroke-width="0.9" fill="none"/>
<path d="M51.3,634.9 L126.5,627" stroke="#00468c" stroke-width="0.9" fill="none"/>
<path d="M126.50,627.43 L138.98,626.05 L151.47,624.68 L163.95,623.31 L176.43,621.96 L188.92,620.61 L201.40,619.27 L213.88,617.93 L226.36,616.61 L238.85,615.29 L251.33,613.98 L263.81,612.68 L276.30,611.39 L288.78,610.10 L301.26,608.83 L313.75,607.56 L326.23,606.30 L338.71,605.04 L351.19,603.80 L363.68,602.56 L376.16,601.33 L388.64,600.10 L401.13,598.89 L413.61,597.68 L426.09,596.48 L438.58,595.29 L451.06,594.11 L463.54,592.93 L476.03,591.77 L488.51,590.61 L500.99,589.45 L513.47,588.31 L525.96,587.17 L538.44,586.05 L550.92,584.93 L563.41,583.81 L575.89,582.71 L588.37,581.61 L600.86,580.52 L613.34,579.44 L625.82,578.37 L638.31,577.30 L650.79,576.24 L663.27,575.19 L675.75,574.15 L688.24,573.12 L700.72,572.09 L713.20,571.07 L725.69,570.06 L738.17,569.06 L750.65,568.07 L763.14,567.08 L775.62,566.10 L788.10,565.13 L800.58,564.16 L813.07,563.21 L825.55,562.26 L838.03,561.32 L850.52,560.39 L863.00,559.47" stroke="#00468c" stroke-width="3.4" fill="none" stroke-linecap="round"/>
<path d="M51.3,639.6 L126.5,631.5" stroke="#00468c" stroke-width="0.9" fill="none"/>
<path d="M126.50,631.73 L138.97,630.47 L151.43,629.21 L163.90,627.96 L176.36,626.72 L188.83,625.49 L201.30,624.26 L213.76,623.04 L226.23,621.83 L238.69,620.63 L251.16,619.43 L263.63,618.24 L276.09,617.06 L288.56,615.89 L301.03,614.72 L313.49,613.56 L325.96,612.41 L338.42,611.26 L350.89,610.12 L363.36,608.99 L375.82,607.87 L388.29,606.75 L400.75,605.65 L413.22,604.55 L425.69,603.45 L438.15,602.37 L450.62,601.29 L463.08,600.21 L475.55,599.15 L488.02,598.09 L500.48,597.04 L512.95,596.00 L525.42,594.97 L537.88,593.94 L550.35,592.92 L562.81,591.91 L575.28,590.90 L587.75,589.90 L600.21,588.91 L612.68,587.93 L625.14,586.95 L637.61,585.98 L650.08,585.02 L662.54,584.07 L675.01,583.12 L687.47,582.18 L699.94,581.25 L712.41,580.32 L724.87,579.41 L737.34,578.50 L749.81,577.59 L762.27,576.70 L774.74,575.81 L787.20,574.93 L799.67,574.06 L812.14,573.19 L824.60,572.33 L837.07,571.48 L849.53,570.64 L862.00,569.80" stroke="#00468c" stroke-width="2.4" fill="none"/>
<path d="M51.3,670.6 L136.4,668.75" stroke="#000" stroke-width="0.9" fill="none"/>
<path d="M136.40,668.97 L148.95,668.54 L161.51,668.10 L174.06,667.64 L186.61,667.17 L199.16,666.68 L211.72,666.18 L224.27,665.67 L236.82,665.14 L249.37,664.60 L261.93,664.05 L274.48,663.48 L287.03,662.90 L299.58,662.31 L312.14,661.70 L324.69,661.07 L337.24,660.44 L349.79,659.79 L362.35,659.13 L374.90,658.45 L387.45,657.76 L400.00,657.05 L412.56,656.34 L425.11,655.60 L437.66,654.86 L450.21,654.10 L462.77,653.33 L475.32,652.54 L487.87,651.74 L500.42,650.93 L512.98,650.10 L525.53,649.26 L538.08,648.40 L550.63,647.54 L563.19,646.65 L575.74,645.76 L588.29,644.85 L600.84,643.92 L613.40,642.99 L625.95,642.04 L638.50,641.07 L651.05,640.10 L663.61,639.10 L676.16,638.10 L688.71,637.08 L701.26,636.05 L713.82,635.00 L726.37,633.94 L738.92,632.87 L751.47,631.78 L764.03,630.68 L776.58,629.56 L789.13,628.44 L801.68,627.29 L814.24,626.14 L826.79,624.97 L839.34,623.79 L851.89,622.59 L864.45,621.38 L877.00,620.16" stroke="#000" stroke-width="2.5" fill="none" stroke-linecap="round"/>
<path d="M51.3,674.5 L126.25,673.1" stroke="#000" stroke-width="0.9" fill="none"/>
<path d="M126.25,672.88 L138.74,672.55 L151.22,672.21 L163.71,671.84 L176.20,671.46 L188.69,671.06 L201.17,670.64 L213.66,670.21 L226.15,669.75 L238.64,669.28 L251.12,668.79 L263.61,668.28 L276.10,667.75 L288.58,667.20 L301.07,666.64 L313.56,666.06 L326.05,665.46 L338.53,664.84 L351.02,664.20 L363.51,663.54 L376.00,662.87 L388.48,662.18 L400.97,661.47 L413.46,660.74 L425.94,659.99 L438.43,659.23 L450.92,658.44 L463.41,657.64 L475.89,656.82 L488.38,655.98 L500.87,655.13 L513.36,654.25 L525.84,653.36 L538.33,652.45 L550.82,651.52 L563.31,650.57 L575.79,649.61 L588.28,648.62 L600.77,647.62 L613.25,646.60 L625.74,645.56 L638.23,644.50 L650.72,643.43 L663.20,642.34 L675.69,641.22 L688.18,640.09 L700.67,638.95 L713.15,637.78 L725.64,636.59 L738.13,635.39 L750.61,634.17 L763.10,632.93 L775.59,631.67 L788.08,630.40 L800.56,629.10 L813.05,627.79 L825.54,626.46 L838.03,625.11 L850.51,623.74 L863.00,622.36" stroke="#000" stroke-width="3.5" fill="none" stroke-linecap="round"/>
<path d="M51.3,690.3 L74,690.5" stroke="#00468c" stroke-width="0.9" fill="none"/>
<path d="M74,690.5 L200,689.2 L302.6,686.8" stroke="#000" stroke-width="3.2" fill="none" stroke-linecap="round"/>
<path d="M74,690 L200,688.7 L302.6,686.3" stroke="#08305c" stroke-width="2.4" fill="none" stroke-linecap="round"/>
<circle cx="790" cy="565.4" r="5.6" fill="#ff0000"/>
<circle cx="790" cy="575.1" r="5.6" fill="#ff0000"/>
<circle cx="790" cy="630.2" r="5.6" fill="#ff0000"/>
<text x="668.8" y="545" class="t" style="fill:#0f4a8a;font-size:17.15px">P1 (motor+freq.converter)</text>
<text x="850.5" y="577.8" class="t" style="fill:#0f4a8a">P2</text>
<line x1="51.3" y1="517.8" x2="958.8" y2="517.8" stroke="#999" stroke-width="1.5"/>
<line x1="51.3" y1="517" x2="51.3" y2="693" stroke="#000" stroke-width="2"/>
<line x1="958.8" y1="517" x2="958.8" y2="693" stroke="#000" stroke-width="2"/>
<line x1="51.3" y1="692.3" x2="958.8" y2="692.3" stroke="#000" stroke-width="2"/>
<line x1="44" y1="692.30" x2="52" y2="692.30" stroke="#000" stroke-width="2"/>
<line x1="958" y1="692.30" x2="966" y2="692.30" stroke="#000" stroke-width="2"/>
<text x="38.5" y="697.50" class="t" text-anchor="end">0</text>
<text x="971.5" y="697.50" class="t">0</text>
<line x1="44" y1="657.45" x2="52" y2="657.45" stroke="#000" stroke-width="2"/>
<line x1="958" y1="657.45" x2="966" y2="657.45" stroke="#000" stroke-width="2"/>
<text x="38.5" y="662.65" class="t" text-anchor="end">2</text>
<text x="971.5" y="662.65" class="t">2</text>
<line x1="44" y1="622.60" x2="52" y2="622.60" stroke="#000" stroke-width="2"/>
<line x1="958" y1="622.60" x2="966" y2="622.60" stroke="#000" stroke-width="2"/>
<text x="38.5" y="627.80" class="t" text-anchor="end">4</text>
<text x="971.5" y="627.80" class="t">4</text>
<line x1="44" y1="587.75" x2="52" y2="587.75" stroke="#000" stroke-width="2"/>
<line x1="958" y1="587.75" x2="966" y2="587.75" stroke="#000" stroke-width="2"/>
<text x="38.5" y="592.95" class="t" text-anchor="end">6</text>
<text x="971.5" y="592.95" class="t">6</text>
<line x1="44" y1="552.90" x2="52" y2="552.90" stroke="#000" stroke-width="2"/>
<line x1="958" y1="552.90" x2="966" y2="552.90" stroke="#000" stroke-width="2"/>
<text x="25" y="532.7" class="t" text-anchor="middle">P</text>
<text x="24.5" y="551.5" class="t" text-anchor="middle">[kW]</text>
<text x="991" y="533" class="t" text-anchor="middle">NPSH</text>
<text x="990.3" y="551.5" class="t" text-anchor="middle">[m]</text>
<text x="53.8" y="719.00" class="t">P1 (motor+freq.converter) = 7.277 kW</text>
<text x="53.8" y="740.30" class="t">P2 = 6.736 kW</text>
<text x="53.8" y="761.60" class="t">NPSH = 3.57 m</text>
</svg></body></html>
